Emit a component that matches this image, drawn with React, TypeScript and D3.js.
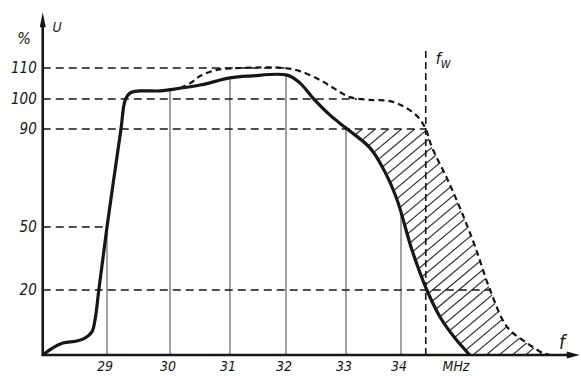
import * as d3 from 'd3'

const W = 581
const H = 376

// frequency ticks (MHz) and level ticks (%)
const xTicks = [29, 30, 31, 32, 33, 34]
const yTicks = [20, 50, 90, 100, 110]
const fW = 34.45

// measured response curve [MHz, %]
const measured: [number, number][] = [
  [27.98, 0], [28.14, 2.2], [28.3, 3.7], [28.52, 4.3], [28.65, 5.2], [28.76, 7.1],
  [28.81, 10.8], [28.87, 20], [29.0, 50], [29.22, 89.6], [29.29, 99.7], [29.37, 102],
  [29.52, 102.6], [29.84, 102.6], [30.0, 103], [30.5, 104.5], [31.0, 106.8],
  [31.36, 107.4], [32.02, 107.7], [32.23, 105.2], [32.45, 100.3], [32.73, 94.7],
  [33.0, 90.3], [33.44, 82.2], [33.71, 72.4], [33.93, 61], [34.2, 39], [34.47, 20],
  [34.71, 11.7], [34.98, 5.2], [35.25, 0],
]

// required (dashed) response curve [MHz, %]
const required: [number, number][] = [
  [30.17, 103.5], [30.37, 105.5], [30.5, 107.4], [30.78, 109.4], [31.18, 110],
  [31.98, 110], [32.23, 109], [32.57, 106.1], [32.82, 103.2], [33.07, 100.6],
  [33.44, 99.7], [33.8, 99.3], [34.07, 97.3], [34.31, 94], [34.45, 90],
  [34.56, 82.7], [34.85, 69.2], [35.11, 55.7], [35.35, 40.5], [35.62, 20],
  [35.93, 8.6], [36.29, 3.7], [36.58, 0.6], [36.71, 0],
]

// dashed reference levels: [%, MHz where the dash ends]
const levels: [number, number][] = [
  [110, 32.0], [100, 33.2], [90, fW], [50, 29.0], [20, 35.62],
]

const X_MIN = 27.98
const X_MAX = 37.25
const Y_MAX = 127

const x = d3.scaleLinear().domain(xTicks).range([107, 170, 230, 286, 346, 401])
const y = d3.scaleLinear().domain([0, 20, 50, 90, 100, 110]).range([355, 290, 227, 129, 99, 68])

const INK = '#161616'
const FONT = "'Liberation Sans Narrow', 'DejaVu Sans Condensed', sans-serif"

export default function App() {
  const line = d3
    .line<[number, number]>()
    .x(d => x(d[0]))
    .y(d => y(d[1]))
    .curve(d3.curveCatmullRom.alpha(0.5))

  const measuredAt = d3
    .scaleLinear()
    .domain(measured.map(d => d[0]))
    .range(measured.map(d => d[1]))

  const x0 = x(X_MIN)
  const x1 = x(X_MAX)
  const y0 = y(0)
  const yTop = y(Y_MAX)

  // region between the two curves
  const back = measured.filter(d => d[0] >= 30).slice().reverse()
  const betweenPath = (line(required) ?? '') + (line(back) ?? '').replace(/^M/, 'L') + 'Z'

  // hatching
  const angle = (40 * Math.PI) / 180
  const hx0 = x(33) - 10
  const hx1 = x(36.8)
  const hTop = y(90)
  const hH = y0 - hTop
  const run = hH / Math.tan(angle)
  const step = 11 / Math.tan(angle)
  const hatch = d3.range(hx0 - run, hx1, step)

  return (
    <svg
      width={W}
      height={H}
      style={{position: 'absolute', left: 0, top: 0, background: '#fff'}}>
      <defs>
        <clipPath id="between">
          <path d={betweenPath} />
        </clipPath>
        <clipPath id="below90">
          <rect x={x0} y={hTop} width={x1 - x0} height={hH} />
        </clipPath>
      </defs>

      {/* hatched area */}
      <g clipPath="url(#below90)">
        <g clipPath="url(#between)">
          {hatch.map((a, i) => (
            <line
              key={i}
              x1={a}
              y1={y0}
              x2={a + run}
              y2={hTop}
              stroke={INK}
              strokeWidth={1.2}
              opacity={0.85}
            />
          ))}
        </g>
      </g>

      {/* dashed levels */}
      {levels.map(([v, end]) => (
        <line
          key={v}
          x1={x0}
          x2={x(end)}
          y1={y(v)}
          y2={y(v)}
          stroke={INK}
          strokeWidth={1.6}
          strokeDasharray="8 5"
        />
      ))}

      {/* frequency verticals */}
      {xTicks.map(t => (
        <line
          key={t}
          x1={x(t)}
          x2={x(t)}
          y1={y0}
          y2={y(Math.min(measuredAt(t), 108))}
          stroke={INK}
          strokeWidth={1}
          opacity={0.8}
        />
      ))}

      {/* f_W */}
      <line
        x1={x(fW)}
        x2={x(fW)}
        y1={y0}
        y2={y(116)}
        stroke={INK}
        strokeWidth={1.6}
        strokeDasharray="7 4"
      />

      {/* curves */}
      <path d={line(required) ?? ''} fill="none" stroke={INK} strokeWidth={2.2} strokeDasharray="6 4" />
      <path d={line(measured) ?? ''} fill="none" stroke={INK} strokeWidth={3.2} strokeLinejoin="round" />

      {/* axes */}
      <line x1={x0} x2={x0} y1={y0 + 1} y2={yTop + 6} stroke={INK} strokeWidth={2.6} />
      <polygon points={`${x0},${yTop - 3} ${x0 - 3},${yTop + 12} ${x0 + 3},${yTop + 12}`} fill={INK} />
      <line x1={x0 - 1} x2={x1 - 8} y1={y0} y2={y0} stroke={INK} strokeWidth={2.6} />
      <polygon points={`${x1},${y0} ${x1 - 13},${y0 - 3.5} ${x1 - 13},${y0 + 3.5}`} fill={INK} />

      {/* labels */}
      <g fontFamily={FONT} fontStyle="italic" fill={INK}>
        {yTicks.map(t => (
          <text key={t} x={x0 - 6} y={y(t)} dy="0.36em" textAnchor="end" fontSize={15}>
            {t}
          </text>
        ))}
        {xTicks.map(t => (
          <text key={t} x={x(t) - 2} y={371} textAnchor="middle" fontSize={14}>
            {t}
          </text>
        ))}
        <text x={24} y={44} textAnchor="middle" fontSize={16}>%</text>
        <text x={57} y={32} textAnchor="middle" fontSize={14}>U</text>
        <text x={456} y={371} textAnchor="middle" fontSize={14}>MHz</text>
        <text x={562} y={349} textAnchor="middle" fontSize={19}>f</text>
        <text x={x(fW) + 10} y={64} fontSize={16}>
          f<tspan fontSize={11} dy={4}>W</tspan>
        </text>
      </g>
    </svg>
  )
}
